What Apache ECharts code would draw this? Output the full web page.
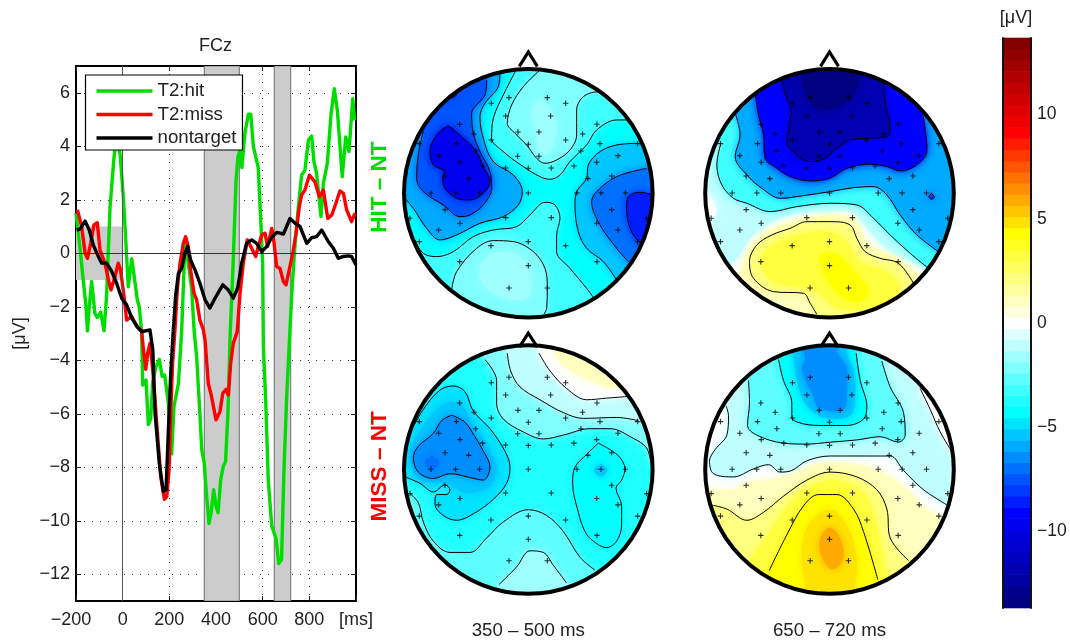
<!DOCTYPE html>
<html><head><meta charset="utf-8">
<script src="https://cdn.jsdelivr.net/npm/echarts@6/dist/echarts.min.js"></script>
<style>html,body{margin:0;background:#fff}#c{width:1070px;height:641px}</style></head>
<body><div id="c"></div>
<script>
// ---- ERP traces: [ms, microvolt]
const hit=[[-200,1.5],[-183,.2],[-169,-1],[-157,-2],[-151,-2.9],[-143,-2],[-133,-1.05],[-119,-2.25],[-109,-2.4],[-94,-2.2],[-80,-2.9],[-69,-1.6],[-54,1.74],[-37,3.6],[-26,4.3],[-11,3.7],[3,2.1],[14,.37],[24,-1.25],[39,-.2],[53,-1.1],[63,-1.75],[71,-2],[81,-2.9],[86,-4.93],[100,-4.74],[110,-6.4],[120,-6.2],[129,-4.8],[143,-4.24],[157,-3.97],[169,-4.6],[180,-4.55],[196,-5.6],[210,-7.5],[220,-5.73],[239,-4.86],[253,-2.87],[267,.37],[281,-.37],[296,-1.37],[306,-2.87],[317,-3.87],[331,-6],[339,-7.35],[349,-7.8],[360,-9.1],[370,-10.1],[379,-9.7],[390,-8.84],[400,-9.46],[409,-9.7],[420,-8.47],[431,-7.97],[441,-7.78],[451,-6],[460,-3.2],[474,-.25],[486,2.74],[494,3.6],[503,3.86],[511,3.2],[524,4.5],[539,5.2],[549,5.2],[560,4],[581,3.2],[591,1.37],[600,-.37],[603,-3.5],[613,-5.5],[624,-8.5],[639,-10.2],[657,-10.65],[669,-11.6],[681,-11.45],[691,-8.2],[703,-5.35],[717,-2.87],[724,-1.6],[739,.37],[753,1.74],[767,2.92],[781,3.1],[796,4.23],[810,4.38],[820,3.42],[831,3],[850,1.37],[860,2.6],[877,3.36],[893,5.2],[907,6.15],[920,5.35],[941,2.86],[956,4.35],[970,3.8],[986,5.78],[994,4.97]];
const miss=[[-194,1.62],[-176,1],[-161,0],[-151,-.19],[-137,.37],[-123,1.06],[-109,1.14],[-97,.12],[-76,-.37],[-61,-1],[-50,-1.37],[-33,-.87],[-19,-.37],[-9,-.62],[6,-1.62],[17,-2.5],[39,-2.36],[60,-2.74],[81,-2.87],[89,-3.6],[99,-4.34],[107,-3.74],[117,-3.37],[129,-4.37],[146,-6.35],[163,-8.35],[179,-9.2],[189,-9.1],[199,-8.1],[206,-6],[214,-4.1],[224,-2.87],[234,-1.37],[246,-.37],[260,.37],[270,.62],[281,.25],[291,-.62],[306,-1.5],[317,-1.74],[331,-2.5],[346,-2.87],[353,-3.25],[367,-4.86],[381,-5.36],[400,-6.23],[417,-5.92],[429,-5.24],[443,-5.09],[453,-5.3],[463,-4.1],[474,-3.37],[491,-2.93],[503,-1.5],[517,-.37],[534,.5],[549,.25],[570,-.12],[581,.25],[596,.68],[610,.75],[621,.25],[639,.93],[649,.37],[660,-.5],[674,-.56],[689,-1.06],[700,-1.18],[714,-.62],[729,0],[743,.75],[757,1.74],[767,2.18],[781,2.36],[800,2.92],[824,2.67],[843,2.11],[860,2.36],[879,1.3],[896,1.43],[914,1.87],[931,2.33],[946,2.24],[960,1.62],[981,1.18],[996,1.5]];
const nontarget=[[-197,.87],[-183,.9],[-161,1.2],[-143,.87],[-126,.31],[-104,-.12],[-90,-.37],[-69,-.37],[-47,-.68],[-26,-1.12],[-4,-1.68],[17,-1.93],[39,-2.42],[67,-2.8],[81,-2.93],[117,-2.87],[129,-3.6],[139,-6],[157,-7.85],[174,-8.9],[186,-8.84],[196,-6.6],[206,-4.5],[217,-2.87],[227,-1.6],[239,-.75],[253,-.56],[267,0],[279,.25],[291,-.25],[310,-.62],[331,-1.12],[353,-1.74],[374,-2.05],[396,-1.68],[429,-1.18],[453,-1.37],[474,-1.68],[493,-1.3],[510,-.37],[531,.37],[553,.5],[574,.37],[596,.06],[617,.25],[639,.6],[660,.78],[689,.72],[717,1.3],[739,1.12],[760,1],[789,.37],[810,.58],[831,.62],[853,.87],[881,.44],[903,.19],[924,-.19],[946,-.12],[967,-.1],[981,-.12],[1000,-.44]];
const xTicks=[-200,0,200,400,600,800,1000];
const yTicks=[-12,-10,-8,-6,-4,-2,0,2,4,6];
const barTicks=[-10,-5,0,5,10];
const shaded=[[-200,0,-1,1],[350,500,-13,7],[650,720,-13,7]];
// electrodes in head units, read on the upper-left map, centre (415,445)
const electrodes=[[357,158],[472,158],[304,175],[527,175],[347,213],[482,213],[209,238],[621,238],[252,267],[384,261],[447,261],[578,267],[88,296],[199,296],[304,285],[415,298],[527,285],[630,296],[743,296],[146,332],[257,318],[383,334],[447,334],[573,318],[684,332],[210,352],[278,363],[347,369],[415,370],[484,369],[552,363],[620,352],[165,393],[236,401],[594,401],[665,393],[123,444],[197,444],[269,444],[415,444],[561,444],[633,444],[706,444],[165,494],[665,494],[60,520],[210,535],[347,518],[484,518],[620,535],[770,520],[146,555],[684,555],[88,590],[303,602],[415,590],[527,602],[743,590],[209,650],[621,650],[415,662],[357,729],[472,729]];
// ---- topography contours read per map: v=level inside, dir=way round the rim, line=drawn as contour
const tlRegions=[
{v:-3.3,dir:1,line:1,p:[[75,585],[100,625],[140,635],[190,620],[250,575],[310,555],[380,545],[420,510],[465,472],[495,480],[510,520],[500,570],[500,620],[540,670],[590,730],[610,757]]},
{v:-2.2,dir:1,line:1,p:[[185,735],[200,680],[260,610],[310,587],[370,590],[430,620],[465,670],[472,730],[470,790],[462,808]]},
{v:-1.8,dir:0,p:[[270,670],[310,625],[380,630],[420,680],[410,760],[320,750],[275,710]]},
{v:-3.2,dir:-1,line:1,p:[[377,78],[345,140],[310,220],[305,280],[340,320],[400,365],[450,395],[480,403],[510,390],[540,350],[590,300],[620,255],[680,225],[720,225]]},
{v:-2.2,dir:-1,line:1,p:[[447,78],[400,125],[365,180],[352,235],[375,265],[410,300],[440,340],[465,355],[500,345],[540,315],[560,270],[560,195],[575,160],[605,143],[640,140]]},
{v:-1.7,dir:0,p:[[425,200],[450,165],[480,190],[500,250],[480,320],[450,325],[440,260]]},
{v:-5.4,dir:-1,line:1,p:[[745,295],[680,300],[630,320],[595,360],[590,400],[560,440],[555,480],[565,560],[590,610],[640,650],[680,705]]},
{v:-6.9,dir:-1,line:1,p:[[770,370],[680,395],[620,440],[605,470],[630,540],[680,610],[715,650]]},
{v:-8.7,dir:-1,line:1,p:[[790,450],[750,442],[715,455],[710,490],[720,550],[745,590]]},
{v:-5.7,dir:1,line:1,p:[[330,80],[325,125],[285,175],[270,215],[280,280],[310,350],[370,390],[397,440],[385,480],[340,515],[270,535],[200,570],[150,585],[110,550],[70,490],[45,460]]},
{v:-7.6,dir:1,line:1,p:[[290,105],[285,150],[245,205],[250,265],[270,320],[300,380],[305,430],[280,480],[240,510],[210,515],[160,480],[100,440],[80,400],[85,330],[100,260]]},
{v:-9.6,dir:0,line:1,p:[[175,243],[215,275],[258,318],[280,365],[300,410],[280,445],[240,465],[200,460],[165,430],[158,395],[165,380],[130,360],[120,320],[140,270]]},
{v:-8.8,dir:0,line:1,p:[[176,161],[195,155],[203,140],[190,148]]}
];
const trRegions=[
{v:-1,dir:-1,p:[[45,500],[70,540],[70,600],[110,660],[140,640],[190,570],[300,510],[420,500],[480,500],[540,560],[600,620],[715,670]]},
{v:0,dir:0,p:[[45,440],[65,465],[78,495],[62,525],[40,515]]},
{v:1.2,dir:-1,p:[[690,690],[620,640],[530,590],[490,520],[420,510],[300,530],[230,560],[180,610],[150,680],[130,735]]},
{v:2.4,dir:-1,line:1,p:[[670,715],[625,655],[570,640],[525,620],[500,580],[480,540],[420,530],[350,530],[300,550],[245,570],[200,600],[178,650],[190,700],[250,740],[340,745],[360,775],[380,808]]},
{v:3.2,dir:0,p:[[210,650],[240,605],[320,570],[420,560],[470,590],[510,650],[590,680],[630,730],[560,790],[440,790],[380,740],[250,710]]},
{v:4.2,dir:0,p:[[390,630],[440,630],[500,690],[535,740],[500,770],[440,740],[400,680]]},
{v:-3.4,dir:-1,line:1,p:[[92,295],[80,360],[95,420],[130,460],[170,475],[240,500],[320,485],[420,475],[500,480],[550,520],[600,570],[660,625],[715,670]]},
{v:-6,dir:-1,line:1,p:[[135,205],[150,270],[135,335],[175,395],[215,430],[270,460],[340,452],[420,440],[490,428],[550,425],[590,450],[630,510],[680,570],[745,620]]},
{v:-9,dir:-1,line:1,p:[[195,145],[205,210],[220,270],[225,340],[260,370],[300,395],[360,408],[420,400],[470,370],[540,358],[590,365],[630,378],[680,360],[710,320],[705,250],[695,195]]},
{v:-12,dir:-1,line:1,p:[[275,105],[290,160],[303,190],[295,260],[290,290],[320,330],[360,350],[405,340],[440,310],[480,285],[530,280],[590,275],[600,250],[585,170],[580,105]]},
{v:-13.2,dir:0,p:[[340,90],[350,150],[380,190],[430,190],[490,150],[500,80]]},
{v:-8,dir:0,line:1,p:[[724,445],[733,457],[724,463],[716,455]]}
];
const blRegions=[
{v:-2.2,dir:-1,line:1,p:[[285,105],[320,170],[320,240],[340,290],[400,330],[460,352],[520,340],[600,320],[660,320],[730,350],[770,380],[782,425]]},
{v:-1.2,dir:-1,line:1,p:[[352,85],[362,140],[390,190],[450,230],[520,270],[580,288],[680,285],[745,295]]},
{v:0,dir:-1,line:1,p:[[447,85],[480,140],[530,195],[590,230],[650,225],[710,220]]},
{v:.9,dir:-1,p:[[495,85],[530,130],[590,165],[655,190],[680,192]]},
{v:-2.6,dir:1,line:1,p:[[60,522],[85,550],[100,610],[130,670],[180,705],[240,705],[290,660],[340,610],[415,572],[470,590],[520,640],[570,720],[615,760]]},
{v:-1.5,dir:1,line:1,p:[[327,805],[380,750],[420,700],[460,705],[490,745],[530,800]]},
{v:-4.8,dir:1,line:1,p:[[60,335],[100,260],[150,200],[190,187],[225,205],[250,265],[300,320],[345,390],[360,440],[350,490],[310,540],[250,585],[200,605],[160,590],[135,555],[140,525],[170,525],[180,510],[165,495],[130,517],[90,490],[45,470]]},
{v:-5.4,dir:0,p:[[115,290],[170,240],[215,245],[245,300],[290,370],[320,440],[300,500],[230,520],[170,490],[90,480],[60,420],[65,370]]},
{v:-6.3,dir:0,line:1,p:[[185,278],[225,300],[255,345],[275,380],[300,440],[280,480],[240,472],[180,460],[130,475],[85,455],[70,410],[85,375],[130,335],[155,295]]},
{v:-7.2,dir:0,p:[[105,425],[125,405],[148,425],[125,447]]},
{v:-4.4,dir:0,line:1,p:[[625,365],[660,385],[690,410],[705,445],[695,480],[678,505],[695,560],[695,620],[680,670],[650,690],[610,670],[585,640],[565,580],[548,490],[555,440],[590,400]]},
{v:-5.3,dir:0,p:[[613,450],[633,430],[652,450],[633,470]]}
];
const brRegions=[
{v:.9,dir:1,p:[[60,510],[130,510],[180,485],[240,480],[310,455],[400,425],[500,430],[600,470],[660,520],[720,580],[780,600]]},
{v:2.2,dir:1,line:1,p:[[65,558],[110,570],[170,605],[220,580],[280,530],[350,480],[420,455],[500,470],[560,510],[590,570],[600,660],[655,730]]},
{v:3.2,dir:1,p:[[170,740],[240,640],[300,550],[370,495],[440,480],[520,520],[560,620],[590,770]]},
{v:4.1,dir:1,line:1,p:[[237,762],[290,650],[340,560],[385,525],[440,525],[490,570],[520,640],[563,790]]},
{v:5,dir:1,p:[[345,812],[335,720],[355,620],[420,572],[475,630],[500,730],[495,812]]},
{v:6.1,dir:0,p:[[415,628],[445,650],[460,720],[430,758],[400,730],[388,670]]},
{v:-1.1,dir:-1,line:1,p:[[108,250],[115,280],[110,340],[75,385],[58,420],[70,460],[130,470],[190,445],[235,432],[270,455],[305,450],[350,420],[420,405],[500,405],[600,405],[640,450],[700,510],[775,560]]},
{v:-1.3,dir:0,p:[[730,470],[760,440],[795,450],[795,515],[755,510]]},
{v:0,dir:-1,line:1,p:[[690,195],[720,260],[750,330],[787,395]]},
{v:-2.7,dir:-1,line:1,p:[[175,170],[178,240],[172,310],[200,340],[280,365],[350,368],[420,362],[500,355],[570,345],[625,362],[645,340],[640,270],[600,190],[575,110]]},
{v:-4.2,dir:-1,line:1,p:[[265,105],[280,170],[305,240],[305,285],[340,305],[400,310],[470,310],[520,290],[530,250],[510,170],[498,85]]},
{v:-5.3,dir:-1,p:[[310,100],[320,170],[345,240],[400,285],[480,280],[495,220],[490,140],[470,85]]},
{v:-6.3,dir:-1,p:[[345,100],[335,140],[370,220],[385,255],[460,260],[470,190],[470,130],[440,80]]}
];
const maps=[
{name:'tl',cx:415,cy:445,px:528.3,py:193.3,base:-4.4,regions:tlRegions},
{name:'tr',cx:418,cy:445,px:829.5,py:193.3,base:0,regions:trRegions},
{name:'bl',cx:415,cy:447,px:528.3,py:474,base:-3.7,regions:blRegions},
{name:'br',cx:418,cy:447,px:829.5,py:474,base:0,regions:brRegions}
];
const FONT='"Liberation Sans"',FS=18,STEP=0.535;
const RAMP=[[-25,0,0,128],[-17,0,0,255],[-8,0,255,255],[0,255,255,255],[8,255,255,0],[17,255,0,0],[25,128,0,0]];
function levelColor(k){
  for(let i=0;i<RAMP.length-1;i++){const a=RAMP[i],b=RAMP[i+1];
    if(k<=b[0]){const t=(k-a[0])/(b[0]-a[0]);
      return 'rgb('+[1,2,3].map(j=>Math.round(a[j]+(b[j]-a[j])*t)).join(',')+')';}}
  return 'rgb(128,0,0)';
}
const valueColor=v=>levelColor(Math.max(-25,Math.min(25,Math.round(v/STEP))));
const levels=[];for(let k=-25;k<=25;k++)levels.push(k);
const minus=s=>String(s).replace('-','\u2212');
const tickText=v=>v<0?minus(v)+'\u00a0\u00a0':String(v);

function withRim(r,m){
  const p=r.p.slice();
  if(!r.dir)return p;
  const a=q=>Math.atan2(q[1]-m.cy,q[0]-m.cx);
  const a1=a(p[p.length-1]),a0=a(p[0]);let d=a0-a1;
  if(r.dir>0){while(d<0)d+=2*Math.PI;}else{while(d>0)d-=2*Math.PI;}
  const n=Math.ceil(Math.abs(d)/0.17);
  for(let i=0;i<=n;i++){const t=a1+d*i/n;p.push([m.cx+400*Math.cos(t),m.cy+400*Math.sin(t)]);}
  return p;
}

const grids=[{left:76,top:66,width:280,height:535}];
const xAxes=[],yAxes=[],series=[];
const lineBase={type:'value',min:-200,max:1000,interval:200,gridIndex:0};
xAxes.push({...lineBase,position:'bottom',axisLine:{onZero:false,lineStyle:{color:'#000',width:2}},
  axisTick:{inside:true,length:5,lineStyle:{color:'#222'}},
  axisLabel:{color:'#222',fontFamily:FONT,fontSize:FS,margin:10,formatter:v=>v===1000?'[ms]':tickText(v),customValues:xTicks,hideOverlap:false},
  splitLine:{show:true,lineStyle:{color:'#333',type:[1,7],width:1}}});
xAxes.push({...lineBase,position:'top',axisLine:{onZero:false,lineStyle:{color:'#000',width:2}},
  axisTick:{inside:true,length:5,lineStyle:{color:'#222'}},axisLabel:{show:false},splitLine:{show:false}});
const yLine={type:'value',min:-13,max:7,gridIndex:0};
yAxes.push({...yLine,position:'left',name:'[\u03bcV]',nameLocation:'middle',nameGap:47,nameRotate:90,
  nameTextStyle:{color:'#222',fontFamily:FONT,fontSize:FS},
  axisLine:{onZero:false,lineStyle:{color:'#000',width:2}},
  axisTick:{inside:true,length:5,lineStyle:{color:'#222'},customValues:yTicks},
  axisLabel:{color:'#222',fontFamily:FONT,fontSize:FS,margin:6,formatter:v=>minus(v),customValues:yTicks},
  splitLine:{show:true,lineStyle:{color:'#333',type:[1,7],width:1}}});
yAxes.push({...yLine,position:'right',axisLine:{onZero:false,lineStyle:{color:'#000',width:2}},
  axisTick:{inside:true,length:5,lineStyle:{color:'#222'},customValues:yTicks},axisLabel:{show:false},splitLine:{show:false}});

series.push({type:'custom',name:'shade',xAxisIndex:0,yAxisIndex:0,z:1,silent:true,clip:true,
  data:shaded,encode:{x:[0,1],y:[2,3]},
  renderItem:(p,api)=>{const a=api.coord([api.value(0),api.value(3)]),b=api.coord([api.value(1),api.value(2)]);
    const edge=p.dataIndex>0;
    return {type:'rect',shape:{x:a[0],y:a[1],width:b[0]-a[0],height:b[1]-a[1]},
      style:{fill:'#cccccc',stroke:edge?'#808080':null,lineWidth:edge?1.2:0}};}
});
series.push({type:'line',name:'zero',xAxisIndex:0,yAxisIndex:0,data:[],z:2,silent:true,
  markLine:{silent:true,symbol:'none',label:{show:false},animation:false,
    data:[{xAxis:0,lineStyle:{color:'#555',width:1,type:'solid'}},{yAxis:0,lineStyle:{color:'#333',width:1,type:'solid'}}]}});
[['T2:hit',hit,'#00dd00',3.4],['T2:miss',miss,'#ff0000',3.4],['nontarget',nontarget,'#000000',3.4]].forEach((s,i)=>{
  series.push({type:'line',name:s[0],data:s[1],xAxisIndex:0,yAxisIndex:0,symbol:'none',showSymbol:false,z:3+i,
    lineStyle:{color:s[2],width:s[3],join:'round'},itemStyle:{color:s[2]},clip:true});
});

maps.forEach((m,i)=>{
  const gi=i+1,ai=i+2,R=378;
  grids.push({left:m.px-126,top:m.py-126,width:252,height:252});
  const bottom=i>=2;
  xAxes.push({type:'value',gridIndex:gi,min:m.cx-R,max:m.cx+R,show:true,axisLine:{show:false},axisTick:{show:false},axisLabel:{show:false},splitLine:{show:false},z:20,
    name:bottom?(i===2?'350 \u2013 500 ms':'650 \u2013 720 ms'):'',nameLocation:'middle',nameGap:30,nameTextStyle:{color:'#222',fontFamily:FONT,fontSize:18.7}});
  const rowName=i===0?'\u00a0\u00a0HIT \u2013 NT':i===2?'\u00a0MISS \u2013 NT':'';
  yAxes.push({type:'value',gridIndex:gi,inverse:true,min:m.cy-R,max:m.cy+R,show:true,axisLine:{show:false},axisTick:{show:false},axisLabel:{show:false},splitLine:{show:false},z:20,
    name:rowName,nameLocation:'middle',nameRotate:90,nameGap:11,nameTextStyle:{color:i===0?'#00dd00':'#ff0000',fontFamily:FONT,fontSize:22.5,fontWeight:'bold'}});
  const polys=m.regions.map(r=>withRim(r,m));
  series.push({type:'custom',name:m.name+' fill',xAxisIndex:ai,yAxisIndex:ai,silent:true,z:2,clip:false,
    data:[[m.cx,m.cy,null]].concat(m.regions.map((r,k)=>[m.cx,m.cy,k])),
    renderItem:(p,api)=>{
      const k=p.dataIndex-1;
      if(k<0){const c=api.coord([m.cx,m.cy]);
        return {type:'circle',shape:{cx:c[0],cy:c[1],r:130},style:{fill:valueColor(m.base)}};}
      const col=valueColor(m.regions[k].v);
      return {type:'polygon',shape:{points:polys[k].map(q=>api.coord(q)),smooth:0.35},
        style:{fill:col,shadowBlur:9,shadowColor:col}};
    }});
  m.regions.filter(r=>r.line).forEach(r=>{
    const pts=r.dir?r.p:r.p.concat([r.p[0]]);
    series.push({type:'line',name:m.name+' contour',data:pts,xAxisIndex:ai,yAxisIndex:ai,symbol:'none',showSymbol:false,smooth:0.35,z:3,silent:true,
      lineStyle:{color:'#000',width:1},clip:false});
  });
  series.push({type:'custom',name:m.name+' head',xAxisIndex:ai,yAxisIndex:ai,silent:true,z:4,clip:false,
    data:[[m.cx,m.cy]],
    renderItem:(p,api)=>{
      const c=api.coord([m.cx,m.cy]);
      const n=[[m.cx-27,m.cy-381],[m.cx,m.cy-424],[m.cx+27,m.cy-381]].map(q=>api.coord(q));
      return {type:'group',children:[
        {type:'circle',shape:{cx:c[0],cy:c[1],r:135},style:{fill:'none',stroke:'#fff',lineWidth:20}},
        {type:'circle',shape:{cx:c[0],cy:c[1],r:124.3},style:{fill:'none',stroke:'#000',lineWidth:4}},
        {type:'polyline',shape:{points:n},style:{fill:'none',stroke:'#000',lineWidth:3.2}}
      ]};
    }});
  series.push({type:'scatter',name:m.name+' electrodes',xAxisIndex:ai,yAxisIndex:ai,silent:true,z:5,
    data:electrodes.map(e=>[e[0]-415+m.cx,e[1]-445+m.cy]),
    symbol:'path://M-1 -5H1V-1H5V1H1V5H-1V1H-5V-1H-1Z',symbolSize:5.5,itemStyle:{color:'#000'}});
});

// colour bar
const cb=grids.length;
grids.push({left:1003,top:38,width:28,height:570});
const cbX=xAxes.length;
xAxes.push({type:'category',gridIndex:cb,data:['c'],show:false});
const cbY=yAxes.length;
yAxes.push({type:'category',gridIndex:cb,data:levels.map(String),show:false});
const cbAxis={type:'value',gridIndex:cb,min:-13.66,max:13.66,splitLine:{show:false},z:6,
  axisLine:{show:true,onZero:false,lineStyle:{color:'#111',width:2}},
  axisTick:{inside:true,length:5,lineStyle:{color:'#222'},customValues:barTicks}};
yAxes.push({...cbAxis,position:'right',axisLabel:{color:'#222',fontFamily:FONT,fontSize:17.5,margin:6,formatter:v=>minus(v),customValues:barTicks}});
yAxes.push({...cbAxis,position:'left',axisLabel:{show:false}});
series.push({type:'custom',name:'colour scale',xAxisIndex:cbX,yAxisIndex:cbY,silent:true,z:2,
  data:levels.map((k,i)=>[0,i]),
  renderItem:(p,api)=>{const c=api.coord([0,api.value(1)]),s=api.size([1,1]);
    return {type:'rect',shape:{x:c[0]-s[0]/2,y:c[1]-s[1]/2-0.3,width:s[0],height:s[1]+0.6},style:{fill:levelColor(levels[p.dataIndex])}};}
});

const chart=echarts.init(document.getElementById('c'),null,{renderer:'canvas'});
chart.setOption({
  animation:false,backgroundColor:'#fff',
  title:[
    {text:'FCz',left:215.5,top:37,padding:0,textAlign:'center',textStyle:{color:'#222',fontFamily:FONT,fontSize:FS,fontWeight:'normal'}},
    {text:'[\u03bcV]',left:1016,top:9,padding:0,textAlign:'center',textStyle:{color:'#222',fontFamily:FONT,fontSize:FS,fontWeight:'normal'}}
  ],
  legend:{data:['T2:hit','T2:miss','nontarget'],orient:'vertical',left:85.5,top:75,icon:'rect',itemWidth:56,itemHeight:3.6,itemGap:3.5,padding:[6,6,2,11],
    backgroundColor:'#fff',borderColor:'#000',borderWidth:1.2,textStyle:{color:'#222',fontFamily:FONT,fontSize:18.7,lineHeight:20},z:10},
  grid:grids,xAxis:xAxes,yAxis:yAxes,series:series
});
</script></body></html>
